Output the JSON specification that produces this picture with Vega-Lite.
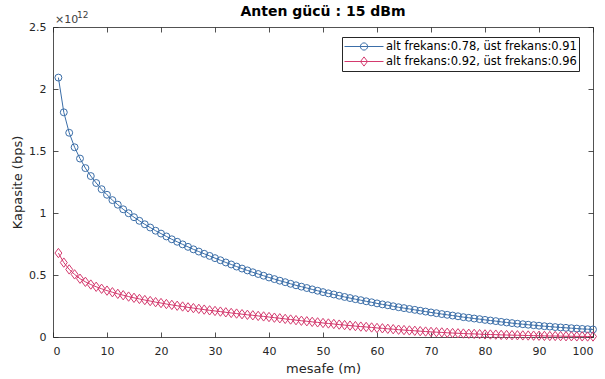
{
  "$schema": "https://vega.github.io/schema/vega-lite/v6.json",
  "width": 540,
  "height": 310,
  "autosize": {"type": "none"},
  "padding": {"left": 53, "top": 27, "right": 12, "bottom": 42},
  "background": "white",
  "config": {
    "view": {"stroke": null},
    "font": "DejaVu Sans",
    "axis": {
      "domainColor": "#262626",
      "tickColor": "#262626",
      "labelColor": "#262626",
      "titleColor": "#262626",
      "labelFontSize": 11,
      "titleFontSize": 13,
      "titleFontWeight": "normal",
      "tickSize": -5,
      "grid": false,
      "domainWidth": 0.8,
      "tickWidth": 0.8,
      "labelFont": "DejaVu Sans",
      "titleFont": "DejaVu Sans"
    },
    "axisBottom": {"labelPadding": 13, "titlePadding": 6},
    "axisLeft": {"labelPadding": 12, "titlePadding": 4}
  },
  "title": {"text": "Anten gücü : 15 dBm", "fontSize": 14, "fontWeight": "bold", "color": "#000000", "offset": -8, "anchor": "middle", "font": "DejaVu Sans"},
  "datasets": {
    "us": [{"m": 0, "k": 2.5, "t": "×10", "u": "12"}],
    "veri": [
      {"m":1,"k":2.092,"s":"alt frekans:0.78, üst frekans:0.91"},{"m":2,"k":1.812,"s":"alt frekans:0.78, üst frekans:0.91"},{"m":3,"k":1.647,"s":"alt frekans:0.78, üst frekans:0.91"},{"m":4,"k":1.530,"s":"alt frekans:0.78, üst frekans:0.91"},{"m":5,"k":1.439,"s":"alt frekans:0.78, üst frekans:0.91"},{"m":6,"k":1.362,"s":"alt frekans:0.78, üst frekans:0.91"},{"m":7,"k":1.298,"s":"alt frekans:0.78, üst frekans:0.91"},{"m":8,"k":1.242,"s":"alt frekans:0.78, üst frekans:0.91"},{"m":9,"k":1.192,"s":"alt frekans:0.78, üst frekans:0.91"},{"m":10,"k":1.147,"s":"alt frekans:0.78, üst frekans:0.91"},
      {"m":11,"k":1.104,"s":"alt frekans:0.78, üst frekans:0.91"},{"m":12,"k":1.067,"s":"alt frekans:0.78, üst frekans:0.91"},{"m":13,"k":1.030,"s":"alt frekans:0.78, üst frekans:0.91"},{"m":14,"k":0.998,"s":"alt frekans:0.78, üst frekans:0.91"},{"m":15,"k":0.966,"s":"alt frekans:0.78, üst frekans:0.91"},{"m":16,"k":0.937,"s":"alt frekans:0.78, üst frekans:0.91"},{"m":17,"k":0.909,"s":"alt frekans:0.78, üst frekans:0.91"},{"m":18,"k":0.883,"s":"alt frekans:0.78, üst frekans:0.91"},{"m":19,"k":0.857,"s":"alt frekans:0.78, üst frekans:0.91"},{"m":20,"k":0.834,"s":"alt frekans:0.78, üst frekans:0.91"},
      {"m":21,"k":0.811,"s":"alt frekans:0.78, üst frekans:0.91"},{"m":22,"k":0.788,"s":"alt frekans:0.78, üst frekans:0.91"},{"m":23,"k":0.768,"s":"alt frekans:0.78, üst frekans:0.91"},{"m":24,"k":0.747,"s":"alt frekans:0.78, üst frekans:0.91"},{"m":25,"k":0.727,"s":"alt frekans:0.78, üst frekans:0.91"},{"m":26,"k":0.707,"s":"alt frekans:0.78, üst frekans:0.91"},{"m":27,"k":0.689,"s":"alt frekans:0.78, üst frekans:0.91"},{"m":28,"k":0.671,"s":"alt frekans:0.78, üst frekans:0.91"},{"m":29,"k":0.654,"s":"alt frekans:0.78, üst frekans:0.91"},{"m":30,"k":0.636,"s":"alt frekans:0.78, üst frekans:0.91"},
      {"m":31,"k":0.619,"s":"alt frekans:0.78, üst frekans:0.91"},{"m":32,"k":0.601,"s":"alt frekans:0.78, üst frekans:0.91"},{"m":33,"k":0.585,"s":"alt frekans:0.78, üst frekans:0.91"},{"m":34,"k":0.568,"s":"alt frekans:0.78, üst frekans:0.91"},{"m":35,"k":0.552,"s":"alt frekans:0.78, üst frekans:0.91"},{"m":36,"k":0.537,"s":"alt frekans:0.78, üst frekans:0.91"},{"m":37,"k":0.522,"s":"alt frekans:0.78, üst frekans:0.91"},{"m":38,"k":0.508,"s":"alt frekans:0.78, üst frekans:0.91"},{"m":39,"k":0.494,"s":"alt frekans:0.78, üst frekans:0.91"},{"m":40,"k":0.480,"s":"alt frekans:0.78, üst frekans:0.91"},
      {"m":41,"k":0.467,"s":"alt frekans:0.78, üst frekans:0.91"},{"m":42,"k":0.454,"s":"alt frekans:0.78, üst frekans:0.91"},{"m":43,"k":0.442,"s":"alt frekans:0.78, üst frekans:0.91"},{"m":44,"k":0.429,"s":"alt frekans:0.78, üst frekans:0.91"},{"m":45,"k":0.417,"s":"alt frekans:0.78, üst frekans:0.91"},{"m":46,"k":0.406,"s":"alt frekans:0.78, üst frekans:0.91"},{"m":47,"k":0.395,"s":"alt frekans:0.78, üst frekans:0.91"},{"m":48,"k":0.384,"s":"alt frekans:0.78, üst frekans:0.91"},{"m":49,"k":0.373,"s":"alt frekans:0.78, üst frekans:0.91"},{"m":50,"k":0.362,"s":"alt frekans:0.78, üst frekans:0.91"},
      {"m":51,"k":0.352,"s":"alt frekans:0.78, üst frekans:0.91"},{"m":52,"k":0.343,"s":"alt frekans:0.78, üst frekans:0.91"},{"m":53,"k":0.333,"s":"alt frekans:0.78, üst frekans:0.91"},{"m":54,"k":0.323,"s":"alt frekans:0.78, üst frekans:0.91"},{"m":55,"k":0.314,"s":"alt frekans:0.78, üst frekans:0.91"},{"m":56,"k":0.305,"s":"alt frekans:0.78, üst frekans:0.91"},{"m":57,"k":0.297,"s":"alt frekans:0.78, üst frekans:0.91"},{"m":58,"k":0.288,"s":"alt frekans:0.78, üst frekans:0.91"},{"m":59,"k":0.280,"s":"alt frekans:0.78, üst frekans:0.91"},{"m":60,"k":0.271,"s":"alt frekans:0.78, üst frekans:0.91"},
      {"m":61,"k":0.263,"s":"alt frekans:0.78, üst frekans:0.91"},{"m":62,"k":0.256,"s":"alt frekans:0.78, üst frekans:0.91"},{"m":63,"k":0.248,"s":"alt frekans:0.78, üst frekans:0.91"},{"m":64,"k":0.240,"s":"alt frekans:0.78, üst frekans:0.91"},{"m":65,"k":0.233,"s":"alt frekans:0.78, üst frekans:0.91"},{"m":66,"k":0.226,"s":"alt frekans:0.78, üst frekans:0.91"},{"m":67,"k":0.219,"s":"alt frekans:0.78, üst frekans:0.91"},{"m":68,"k":0.212,"s":"alt frekans:0.78, üst frekans:0.91"},{"m":69,"k":0.205,"s":"alt frekans:0.78, üst frekans:0.91"},{"m":70,"k":0.198,"s":"alt frekans:0.78, üst frekans:0.91"},
      {"m":71,"k":0.192,"s":"alt frekans:0.78, üst frekans:0.91"},{"m":72,"k":0.185,"s":"alt frekans:0.78, üst frekans:0.91"},{"m":73,"k":0.179,"s":"alt frekans:0.78, üst frekans:0.91"},{"m":74,"k":0.173,"s":"alt frekans:0.78, üst frekans:0.91"},{"m":75,"k":0.167,"s":"alt frekans:0.78, üst frekans:0.91"},{"m":76,"k":0.160,"s":"alt frekans:0.78, üst frekans:0.91"},{"m":77,"k":0.155,"s":"alt frekans:0.78, üst frekans:0.91"},{"m":78,"k":0.149,"s":"alt frekans:0.78, üst frekans:0.91"},{"m":79,"k":0.144,"s":"alt frekans:0.78, üst frekans:0.91"},{"m":80,"k":0.138,"s":"alt frekans:0.78, üst frekans:0.91"},
      {"m":81,"k":0.133,"s":"alt frekans:0.78, üst frekans:0.91"},{"m":82,"k":0.128,"s":"alt frekans:0.78, üst frekans:0.91"},{"m":83,"k":0.122,"s":"alt frekans:0.78, üst frekans:0.91"},{"m":84,"k":0.117,"s":"alt frekans:0.78, üst frekans:0.91"},{"m":85,"k":0.112,"s":"alt frekans:0.78, üst frekans:0.91"},{"m":86,"k":0.107,"s":"alt frekans:0.78, üst frekans:0.91"},{"m":87,"k":0.103,"s":"alt frekans:0.78, üst frekans:0.91"},{"m":88,"k":0.099,"s":"alt frekans:0.78, üst frekans:0.91"},{"m":89,"k":0.095,"s":"alt frekans:0.78, üst frekans:0.91"},{"m":90,"k":0.091,"s":"alt frekans:0.78, üst frekans:0.91"},
      {"m":91,"k":0.087,"s":"alt frekans:0.78, üst frekans:0.91"},{"m":92,"k":0.084,"s":"alt frekans:0.78, üst frekans:0.91"},{"m":93,"k":0.080,"s":"alt frekans:0.78, üst frekans:0.91"},{"m":94,"k":0.077,"s":"alt frekans:0.78, üst frekans:0.91"},{"m":95,"k":0.074,"s":"alt frekans:0.78, üst frekans:0.91"},{"m":96,"k":0.071,"s":"alt frekans:0.78, üst frekans:0.91"},{"m":97,"k":0.068,"s":"alt frekans:0.78, üst frekans:0.91"},{"m":98,"k":0.065,"s":"alt frekans:0.78, üst frekans:0.91"},{"m":99,"k":0.063,"s":"alt frekans:0.78, üst frekans:0.91"},{"m":100,"k":0.061,"s":"alt frekans:0.78, üst frekans:0.91"},
      {"m":1,"k":0.677,"s":"alt frekans:0.92, üst frekans:0.96"},{"m":2,"k":0.600,"s":"alt frekans:0.92, üst frekans:0.96"},{"m":3,"k":0.545,"s":"alt frekans:0.92, üst frekans:0.96"},{"m":4,"k":0.505,"s":"alt frekans:0.92, üst frekans:0.96"},{"m":5,"k":0.470,"s":"alt frekans:0.92, üst frekans:0.96"},{"m":6,"k":0.445,"s":"alt frekans:0.92, üst frekans:0.96"},{"m":7,"k":0.423,"s":"alt frekans:0.92, üst frekans:0.96"},{"m":8,"k":0.405,"s":"alt frekans:0.92, üst frekans:0.96"},{"m":9,"k":0.389,"s":"alt frekans:0.92, üst frekans:0.96"},{"m":10,"k":0.374,"s":"alt frekans:0.92, üst frekans:0.96"},
      {"m":11,"k":0.361,"s":"alt frekans:0.92, üst frekans:0.96"},{"m":12,"k":0.348,"s":"alt frekans:0.92, üst frekans:0.96"},{"m":13,"k":0.337,"s":"alt frekans:0.92, üst frekans:0.96"},{"m":14,"k":0.326,"s":"alt frekans:0.92, üst frekans:0.96"},{"m":15,"k":0.316,"s":"alt frekans:0.92, üst frekans:0.96"},{"m":16,"k":0.307,"s":"alt frekans:0.92, üst frekans:0.96"},{"m":17,"k":0.298,"s":"alt frekans:0.92, üst frekans:0.96"},{"m":18,"k":0.290,"s":"alt frekans:0.92, üst frekans:0.96"},{"m":19,"k":0.281,"s":"alt frekans:0.92, üst frekans:0.96"},{"m":20,"k":0.274,"s":"alt frekans:0.92, üst frekans:0.96"},
      {"m":21,"k":0.266,"s":"alt frekans:0.92, üst frekans:0.96"},{"m":22,"k":0.259,"s":"alt frekans:0.92, üst frekans:0.96"},{"m":23,"k":0.252,"s":"alt frekans:0.92, üst frekans:0.96"},{"m":24,"k":0.246,"s":"alt frekans:0.92, üst frekans:0.96"},{"m":25,"k":0.239,"s":"alt frekans:0.92, üst frekans:0.96"},{"m":26,"k":0.233,"s":"alt frekans:0.92, üst frekans:0.96"},{"m":27,"k":0.227,"s":"alt frekans:0.92, üst frekans:0.96"},{"m":28,"k":0.221,"s":"alt frekans:0.92, üst frekans:0.96"},{"m":29,"k":0.215,"s":"alt frekans:0.92, üst frekans:0.96"},{"m":30,"k":0.210,"s":"alt frekans:0.92, üst frekans:0.96"},
      {"m":31,"k":0.205,"s":"alt frekans:0.92, üst frekans:0.96"},{"m":32,"k":0.199,"s":"alt frekans:0.92, üst frekans:0.96"},{"m":33,"k":0.194,"s":"alt frekans:0.92, üst frekans:0.96"},{"m":34,"k":0.189,"s":"alt frekans:0.92, üst frekans:0.96"},{"m":35,"k":0.184,"s":"alt frekans:0.92, üst frekans:0.96"},{"m":36,"k":0.179,"s":"alt frekans:0.92, üst frekans:0.96"},{"m":37,"k":0.175,"s":"alt frekans:0.92, üst frekans:0.96"},{"m":38,"k":0.170,"s":"alt frekans:0.92, üst frekans:0.96"},{"m":39,"k":0.166,"s":"alt frekans:0.92, üst frekans:0.96"},{"m":40,"k":0.161,"s":"alt frekans:0.92, üst frekans:0.96"},
      {"m":41,"k":0.156,"s":"alt frekans:0.92, üst frekans:0.96"},{"m":42,"k":0.151,"s":"alt frekans:0.92, üst frekans:0.96"},{"m":43,"k":0.146,"s":"alt frekans:0.92, üst frekans:0.96"},{"m":44,"k":0.141,"s":"alt frekans:0.92, üst frekans:0.96"},{"m":45,"k":0.136,"s":"alt frekans:0.92, üst frekans:0.96"},{"m":46,"k":0.131,"s":"alt frekans:0.92, üst frekans:0.96"},{"m":47,"k":0.127,"s":"alt frekans:0.92, üst frekans:0.96"},{"m":48,"k":0.122,"s":"alt frekans:0.92, üst frekans:0.96"},{"m":49,"k":0.118,"s":"alt frekans:0.92, üst frekans:0.96"},{"m":50,"k":0.113,"s":"alt frekans:0.92, üst frekans:0.96"},
      {"m":51,"k":0.109,"s":"alt frekans:0.92, üst frekans:0.96"},{"m":52,"k":0.105,"s":"alt frekans:0.92, üst frekans:0.96"},{"m":53,"k":0.100,"s":"alt frekans:0.92, üst frekans:0.96"},{"m":54,"k":0.096,"s":"alt frekans:0.92, üst frekans:0.96"},{"m":55,"k":0.092,"s":"alt frekans:0.92, üst frekans:0.96"},{"m":56,"k":0.088,"s":"alt frekans:0.92, üst frekans:0.96"},{"m":57,"k":0.084,"s":"alt frekans:0.92, üst frekans:0.96"},{"m":58,"k":0.081,"s":"alt frekans:0.92, üst frekans:0.96"},{"m":59,"k":0.077,"s":"alt frekans:0.92, üst frekans:0.96"},{"m":60,"k":0.073,"s":"alt frekans:0.92, üst frekans:0.96"},
      {"m":61,"k":0.070,"s":"alt frekans:0.92, üst frekans:0.96"},{"m":62,"k":0.066,"s":"alt frekans:0.92, üst frekans:0.96"},{"m":63,"k":0.063,"s":"alt frekans:0.92, üst frekans:0.96"},{"m":64,"k":0.059,"s":"alt frekans:0.92, üst frekans:0.96"},{"m":65,"k":0.056,"s":"alt frekans:0.92, üst frekans:0.96"},{"m":66,"k":0.053,"s":"alt frekans:0.92, üst frekans:0.96"},{"m":67,"k":0.050,"s":"alt frekans:0.92, üst frekans:0.96"},{"m":68,"k":0.047,"s":"alt frekans:0.92, üst frekans:0.96"},{"m":69,"k":0.044,"s":"alt frekans:0.92, üst frekans:0.96"},{"m":70,"k":0.041,"s":"alt frekans:0.92, üst frekans:0.96"},
      {"m":71,"k":0.039,"s":"alt frekans:0.92, üst frekans:0.96"},{"m":72,"k":0.037,"s":"alt frekans:0.92, üst frekans:0.96"},{"m":73,"k":0.034,"s":"alt frekans:0.92, üst frekans:0.96"},{"m":74,"k":0.032,"s":"alt frekans:0.92, üst frekans:0.96"},{"m":75,"k":0.030,"s":"alt frekans:0.92, üst frekans:0.96"},{"m":76,"k":0.028,"s":"alt frekans:0.92, üst frekans:0.96"},{"m":77,"k":0.026,"s":"alt frekans:0.92, üst frekans:0.96"},{"m":78,"k":0.025,"s":"alt frekans:0.92, üst frekans:0.96"},{"m":79,"k":0.023,"s":"alt frekans:0.92, üst frekans:0.96"},{"m":80,"k":0.021,"s":"alt frekans:0.92, üst frekans:0.96"},
      {"m":81,"k":0.020,"s":"alt frekans:0.92, üst frekans:0.96"},{"m":82,"k":0.019,"s":"alt frekans:0.92, üst frekans:0.96"},{"m":83,"k":0.017,"s":"alt frekans:0.92, üst frekans:0.96"},{"m":84,"k":0.016,"s":"alt frekans:0.92, üst frekans:0.96"},{"m":85,"k":0.015,"s":"alt frekans:0.92, üst frekans:0.96"},{"m":86,"k":0.014,"s":"alt frekans:0.92, üst frekans:0.96"},{"m":87,"k":0.013,"s":"alt frekans:0.92, üst frekans:0.96"},{"m":88,"k":0.012,"s":"alt frekans:0.92, üst frekans:0.96"},{"m":89,"k":0.011,"s":"alt frekans:0.92, üst frekans:0.96"},{"m":90,"k":0.010,"s":"alt frekans:0.92, üst frekans:0.96"},
      {"m":91,"k":0.009,"s":"alt frekans:0.92, üst frekans:0.96"},{"m":92,"k":0.008,"s":"alt frekans:0.92, üst frekans:0.96"},{"m":93,"k":0.008,"s":"alt frekans:0.92, üst frekans:0.96"},{"m":94,"k":0.007,"s":"alt frekans:0.92, üst frekans:0.96"},{"m":95,"k":0.006,"s":"alt frekans:0.92, üst frekans:0.96"},{"m":96,"k":0.006,"s":"alt frekans:0.92, üst frekans:0.96"},{"m":97,"k":0.005,"s":"alt frekans:0.92, üst frekans:0.96"},{"m":98,"k":0.005,"s":"alt frekans:0.92, üst frekans:0.96"},{"m":99,"k":0.004,"s":"alt frekans:0.92, üst frekans:0.96"},{"m":100,"k":0.004,"s":"alt frekans:0.92, üst frekans:0.96"}
    ]
  },
  "layer": [
    {
      "data": {"name": "veri"},
      "mark": {"type": "point", "filled": false, "strokeWidth": 0, "size": 0, "opacity": 1},
      "encoding": {
        "x": {"field": "m", "type": "quantitative", "scale": {"domain": [0, 100], "nice": false}, "axis": null},
        "y": {"field": "k", "type": "quantitative", "scale": {"domain": [0, 2.5], "nice": false}, "axis": null},
        "color": {"field": "s", "type": "nominal",
                  "scale": {"domain": ["alt frekans:0.78, üst frekans:0.91", "alt frekans:0.92, üst frekans:0.96"], "range": ["#3b6ea8", "#d43a6e"]},
                  "legend": {
                    "orient": "none", "legendX": 289, "legendY": 10, "title": null,
                    "strokeColor": "#262626", "fillColor": "white", "padding": 2, "cornerRadius": 0,
                    "labelFontSize": 11.5, "labelColor": "#000000", "labelFont": "DejaVu Sans", "labelLimit": 400,
                    "symbolSize": 196, "symbolStrokeWidth": 1, "symbolOpacity": 1, "rowPadding": 1, "labelOffset": 27
                  }},
        "shape": {"field": "s", "type": "nominal",
                  "scale": {"domain": ["alt frekans:0.78, üst frekans:0.91", "alt frekans:0.92, üst frekans:0.96"],
                            "range": ["M-1,0L4.57,0M2.3,0A0.514,0.514 0 1,1 1.272,0A0.514,0.514 0 1,1 2.3,0", "M-1,0L4.57,0M1.786,-0.657L2.286,0L1.786,0.657L1.286,0Z"]},
                  "legend": {
                    "orient": "none", "legendX": 289, "legendY": 10, "title": null,
                    "strokeColor": "#262626", "fillColor": "white", "padding": 2, "cornerRadius": 0,
                    "labelFontSize": 11.5, "labelColor": "#000000", "labelFont": "DejaVu Sans", "labelLimit": 400,
                    "symbolSize": 196, "symbolStrokeWidth": 1, "symbolOpacity": 1, "rowPadding": 1, "labelOffset": 27
                  }}
      }
    },
    {
      "data": {"name": "veri"},
      "mark": {"type": "line", "strokeWidth": 1},
      "encoding": {
        "x": {"field": "m", "type": "quantitative",
              "axis": {"orient": "bottom", "values": [0,10,20,30,40,50,60,70,80,90,100], "title": "mesafe (m)"}},
        "y": {"field": "k", "type": "quantitative",
              "axis": {"orient": "left", "values": [0,0.5,1,1.5,2,2.5], "format": "~g", "title": "Kapasite (bps)"}},
        "color": {"field": "s", "type": "nominal"}
      }
    },
    {
      "data": {"name": "veri"},
      "transform": [{"filter": "datum.s === 'alt frekans:0.78, üst frekans:0.91'"}],
      "mark": {"type": "point", "filled": false, "strokeWidth": 1, "size": 48, "opacity": 1, "shape": "circle", "color": "#3b6ea8"},
      "encoding": {
        "x": {"field": "m", "type": "quantitative", "axis": {"orient": "top", "values": [0,10,20,30,40,50,60,70,80,90,100], "labels": false, "title": null}},
        "y": {"field": "k", "type": "quantitative", "axis": {"orient": "right", "values": [0,0.5,1,1.5,2,2.5], "labels": false, "title": null}}
      }
    },
    {
      "data": {"name": "veri"},
      "transform": [{"filter": "datum.s === 'alt frekans:0.92, üst frekans:0.96'"}],
      "mark": {"type": "point", "filled": false, "strokeWidth": 1, "size": 48, "opacity": 1, "shape": "M0,-1.35L1,0L0,1.35L-1,0Z", "color": "#d43a6e"},
      "encoding": {
        "x": {"field": "m", "type": "quantitative", "axis": null},
        "y": {"field": "k", "type": "quantitative", "axis": null}
      }
    },
    {
      "data": {"name": "us"},
      "mark": {"type": "text", "align": "left", "baseline": "alphabetic", "dx": 2, "dy": -4, "fontSize": 11, "color": "#404040", "font": "DejaVu Sans"},
      "encoding": {
        "x": {"field": "m", "type": "quantitative", "axis": null},
        "y": {"field": "k", "type": "quantitative", "axis": null},
        "text": {"field": "t"}
      }
    },
    {
      "data": {"name": "us"},
      "mark": {"type": "text", "align": "left", "baseline": "alphabetic", "dx": 24, "dy": -9, "fontSize": 9, "color": "#404040", "font": "DejaVu Sans"},
      "encoding": {
        "x": {"field": "m", "type": "quantitative", "axis": null},
        "y": {"field": "k", "type": "quantitative", "axis": null},
        "text": {"field": "u"}
      }
    }
  ],
  "resolve": {"axis": {"x": "independent", "y": "independent"}}
}
